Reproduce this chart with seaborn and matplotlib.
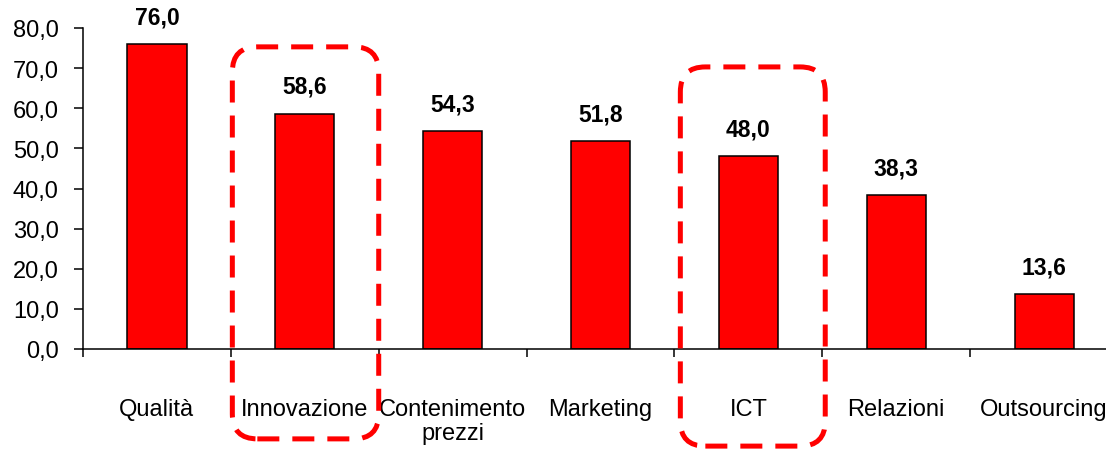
import numpy as np
import pandas as pd
import matplotlib
matplotlib.use("Agg")
import matplotlib.pyplot as plt
import seaborn as sns
from matplotlib.patches import FancyBboxPatch
from matplotlib.transforms import IdentityTransform
from matplotlib.ticker import FuncFormatter, FixedLocator

# ---- data ----
categories = ["Qualità", "Innovazione", "Contenimento\nprezzi", "Marketing",
              "ICT", "Relazioni", "Outsourcing"]
values = [76.0, 58.6, 54.3, 51.8, 48.0, 38.3, 13.6]
y_ticks = [0, 10, 20, 30, 40, 50, 60, 70, 80]
highlighted = ["Innovazione", "ICT"]

# ---- style ----
sns.set_theme(style="white")
plt.rcParams["font.family"] = ["Liberation Sans", "DejaVu Sans"]

W, H, DPI = 1106, 456, 100
fig = plt.figure(figsize=(W / DPI, H / DPI), dpi=DPI)
ax = fig.add_axes([83 / W, 106 / H, 1035 / W, 321 / H])

df = pd.DataFrame({"cat": categories, "val": values})
sns.barplot(data=df, x="cat", y="val", color="#FF0000", saturation=1,
            width=0.40, edgecolor="black", linewidth=1.1, ax=ax)

ax.set_xlim(-0.5, len(categories) - 0.5)
ax.set_ylim(0, 80)
ax.set_xlabel("")
ax.set_ylabel("")

# spines
for s in ["top", "right"]:
    ax.spines[s].set_visible(False)
for s in ["left", "bottom"]:
    ax.spines[s].set_color("black")
    ax.spines[s].set_linewidth(1.1)

# y ticks
ax.yaxis.set_major_locator(FixedLocator(y_ticks))
ax.yaxis.set_major_formatter(FuncFormatter(lambda v, p: f"{v:.1f}".replace(".", ",")))
ax.tick_params(axis="y", direction="out", length=6.5, width=1.1, color="black",
               pad=11, labelsize=17, labelcolor="black", left=True)

# x ticks: labels at centres, tick marks at boundaries
ax.set_xticks(range(len(categories)))
ax.set_xticklabels(categories)
ax.set_xticks(np.arange(-0.5, len(categories), 1.0), minor=True)
ax.tick_params(axis="x", which="major", length=0, pad=35, labelsize=17,
               labelcolor="black", bottom=True)
ax.tick_params(axis="x", which="minor", direction="out", length=6, width=1.1,
               color="black", bottom=True)
for t in ax.get_xticklabels():
    t.set_linespacing(1.15)

# value labels
ax.bar_label(ax.containers[0],
             labels=[f"{v:.1f}".replace(".", ",") for v in values],
             padding=11.5, fontsize=16.5, fontweight="bold", color="black")

# dashed rounded highlight boxes (extents in data units around the category)
box_extents = {"Innovazione": (-0.49, 0.50, 75.3, -22.4),
               "ICT": (-0.46, 0.52, 70.3, -24.2)}
fig.canvas.draw()
for name in highlighted:
    i = categories.index(name)
    dx0, dx1, ytop, ybot = box_extents[name]
    (x0, y0) = ax.transData.transform((i + dx0, ybot))
    (x1, y1) = ax.transData.transform((i + dx1, ytop))
    patch = FancyBboxPatch((x0, y0), x1 - x0, y1 - y0,
                           boxstyle="round,pad=0,rounding_size=25",
                           transform=IdentityTransform(), fill=False,
                           edgecolor="#FF0000", linewidth=3.6,
                           linestyle=(0, (4.4, 2.6)), clip_on=False)
    fig.add_artist(patch)

fig.savefig("out.png", dpi=DPI, facecolor="white")
